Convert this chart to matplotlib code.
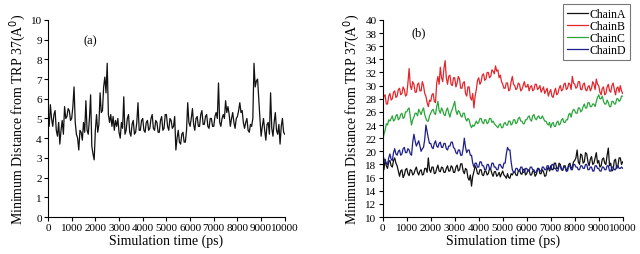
import numpy as np
import matplotlib.pyplot as plt

plt.rcParams["font.family"] = ["Liberation Serif", "DejaVu Serif"]

# time axis, ps (every 50 ps)
time_ps = np.arange(0, 10001, 50)

# panel (a): minimum distance, single trace
dist_a = [5.3, 4.6, 5.7, 5.0, 4.6, 5.2, 5.4, 4.4, 4.1, 4.8,
          3.7, 4.4, 4.9, 4.2, 5.6, 5.0, 5.1, 5.5, 5.4, 4.9,
          5.0, 5.6, 6.6, 4.8, 4.2, 4.0, 3.4, 4.4, 4.3, 3.9,
          4.8, 4.3, 5.9, 4.4, 4.2, 5.0, 6.2, 3.6, 3.2, 2.9,
          4.4, 5.2, 4.3, 4.7, 6.3, 5.3, 5.4, 6.6, 7.1, 6.3,
          7.8, 5.2, 4.8, 5.2, 4.6, 5.1, 4.4, 4.9, 4.6, 5.0,
          4.3, 4.0, 4.8, 4.5, 6.1, 4.2, 4.4, 5.0, 5.2, 4.3,
          4.1, 4.7, 4.9, 4.2, 4.3, 4.8, 5.8, 4.4, 4.4, 4.9,
          5.0, 4.4, 4.3, 4.8, 4.9, 4.4, 4.5, 5.0, 5.2, 4.5,
          4.4, 4.9, 4.8, 4.3, 4.3, 4.9, 5.1, 4.4, 4.5, 5.2,
          5.2, 4.6, 4.4, 5.0, 4.9, 4.5, 4.6, 5.1, 3.4, 4.0,
          4.4, 3.8, 3.7, 4.2, 4.3, 3.8, 3.8, 4.4, 5.8, 4.8,
          4.6, 5.0, 5.5, 4.7, 4.4, 5.0, 5.1, 4.6, 4.6, 5.2,
          5.4, 4.7, 4.7, 5.1, 5.2, 4.6, 4.5, 5.0, 5.0, 4.6,
          4.6, 5.1, 5.3, 5.0, 6.8, 4.8, 4.6, 5.0, 5.2, 5.0,
          5.9, 5.3, 5.6, 5.2, 4.6, 5.0, 5.3, 4.8, 4.5, 5.0,
          5.1, 5.4, 5.8, 5.3, 5.4, 4.8, 4.5, 4.8, 5.0, 4.4,
          4.3, 4.7, 4.6, 5.0, 7.8, 6.6, 6.9, 7.0, 6.0, 5.0,
          4.1, 4.6, 5.0, 4.4, 3.9, 4.7, 4.8, 4.2, 6.3, 4.5,
          4.1, 4.8, 5.3, 4.4, 4.2, 4.7, 3.7, 4.6, 5.0, 4.3,
          4.2]

# panel (b): four chains
chain_a = [18.0, 17.2, 18.8, 17.8, 17.4, 18.4, 18.6, 17.8, 17.6, 18.6,
           19.0, 18.2, 17.8, 17.0, 16.2, 17.0, 17.2, 16.0, 16.4, 17.2,
           17.4, 16.6, 16.3, 17.2, 17.1, 16.4, 16.6, 17.2, 17.6, 16.8,
           16.4, 17.0, 17.2, 16.4, 16.5, 17.4, 17.4, 16.8, 19.0, 17.2,
           16.8, 17.6, 17.6, 16.6, 16.7, 17.4, 17.9, 17.0, 16.9, 17.6,
           17.5, 16.8, 16.8, 17.4, 17.8, 17.0, 17.0, 17.8, 17.6, 16.8,
           16.8, 17.6, 17.9, 17.0, 17.2, 18.1, 18.1, 17.0, 16.6, 17.4,
           17.2, 16.0, 15.6, 16.4, 14.7, 16.2, 16.9, 17.8, 17.4, 16.6,
           16.5, 17.2, 17.2, 16.4, 16.3, 17.0, 17.0, 16.4, 16.6, 17.4,
           17.3, 16.6, 16.2, 16.9, 16.9, 16.2, 16.4, 16.8, 16.1, 16.6,
           17.0, 16.4, 16.2, 15.9, 16.6, 16.0, 15.9, 16.6, 16.4, 16.8,
           16.9, 16.4, 16.3, 17.0, 17.2, 16.6, 16.5, 17.2, 17.3, 16.4,
           16.6, 17.2, 17.1, 16.4, 16.4, 17.0, 17.0, 16.2, 16.5, 17.2,
           17.4, 16.6, 16.6, 17.2, 16.9, 16.2, 16.3, 17.2, 17.6, 17.0,
           17.8, 17.2, 17.2, 18.2, 18.2, 17.4, 17.4, 18.2, 18.0, 17.2,
           17.1, 17.8, 17.8, 17.0, 17.3, 18.0, 18.2, 17.4, 17.6, 18.4,
           18.6, 19.0, 20.2, 18.4, 18.0, 19.6, 19.4, 18.2, 18.4, 19.8,
           19.6, 18.4, 17.8, 18.8, 19.2, 18.0, 18.2, 19.0, 19.8, 18.2,
           18.6, 17.6, 17.8, 18.8, 19.0, 18.2, 18.0, 19.4, 20.5, 17.8,
           18.2, 17.0, 17.2, 18.6, 18.8, 17.4, 17.8, 19.0, 19.0, 18.0,
           18.4]
chain_b = [27.4, 28.4, 28.6, 27.2, 27.2, 28.4, 28.8, 27.8, 28.0, 29.0,
           29.2, 28.2, 28.4, 29.4, 29.6, 28.6, 28.8, 29.8, 29.4, 28.4,
           28.6, 30.4, 32.6, 30.0, 29.4, 30.6, 30.2, 29.0, 29.0, 30.2,
           30.4, 29.2, 29.2, 30.6, 30.0, 28.8, 28.4, 27.4, 26.8, 27.8,
           27.6, 28.6, 28.8, 27.6, 27.4, 30.4, 31.4, 30.2, 32.8, 31.2,
           30.6, 32.6, 33.8, 31.2, 30.2, 31.4, 31.6, 30.2, 30.0, 31.2,
           31.2, 29.8, 30.4, 31.4, 31.0, 29.6, 29.6, 30.4, 30.6, 28.8,
           28.4, 29.8, 29.8, 28.2, 27.8, 28.8, 26.6, 28.4, 29.4, 30.8,
           31.2, 30.2, 30.6, 31.6, 31.8, 30.8, 31.0, 32.0, 32.0, 31.2,
           31.4, 32.4, 32.2, 31.8, 33.0, 32.2, 32.4, 31.2, 31.6, 30.6,
           30.2, 29.6, 29.6, 30.4, 30.4, 29.2, 29.4, 30.6, 31.4, 30.2,
           30.0, 29.4, 29.6, 30.4, 30.2, 29.2, 29.4, 30.0, 30.6, 29.8,
           29.8, 30.2, 29.2, 29.8, 30.0, 29.2, 29.4, 30.2, 30.2, 29.4,
           29.6, 30.0, 29.0, 29.4, 29.8, 28.8, 29.2, 29.6, 28.4, 29.0,
           29.4, 28.4, 28.2, 29.0, 29.6, 28.6, 28.8, 29.6, 30.0, 29.2,
           29.4, 30.2, 30.4, 29.4, 29.6, 30.4, 30.2, 29.4, 31.4, 30.4,
           30.2, 29.6, 29.8, 30.6, 30.6, 29.4, 29.4, 30.2, 30.4, 29.4,
           29.2, 29.8, 30.0, 29.2, 29.6, 30.6, 30.2, 29.4, 31.0, 30.2,
           30.0, 29.0, 28.6, 29.6, 29.8, 28.6, 28.8, 29.8, 30.2, 29.2,
           29.0, 30.0, 30.4, 29.4, 28.6, 29.6, 29.8, 29.0, 30.0, 29.2,
           28.8]
chain_c = [21.6, 22.6, 23.2, 24.2, 24.0, 24.8, 24.6, 25.0, 25.4, 24.6,
           24.8, 25.4, 25.6, 24.8, 25.0, 25.6, 25.8, 25.0, 25.2, 26.0,
           26.0, 26.4, 26.6, 25.2, 24.0, 24.8, 25.2, 25.8, 25.8, 25.4,
           26.4, 26.0, 25.6, 26.2, 26.6, 25.6, 25.0, 24.6, 24.6, 25.4,
           25.8, 26.2, 26.4, 25.8, 25.6, 26.8, 27.6, 26.2, 25.8, 26.6,
           26.2, 25.6, 25.4, 26.2, 26.6, 25.8, 25.2, 26.0, 26.4, 27.0,
           27.6, 26.2, 25.6, 26.2, 26.0, 25.4, 25.2, 25.8, 25.8, 25.0,
           24.6, 25.0, 24.8, 24.0, 23.6, 24.0, 23.8, 24.2, 24.6, 24.2,
           24.4, 25.0, 25.0, 24.4, 24.2, 24.8, 24.8, 24.2, 24.4, 25.0,
           25.0, 24.4, 24.6, 24.2, 24.0, 23.8, 23.6, 24.0, 24.2, 23.6,
           23.6, 24.2, 24.4, 24.0, 24.0, 24.6, 24.6, 24.0, 24.2, 24.8,
           24.8, 24.2, 24.4, 25.0, 25.2, 24.6, 24.6, 24.2, 24.2, 24.8,
           24.8, 25.2, 25.4, 24.8, 24.6, 25.4, 25.6, 25.0, 24.8, 25.2,
           25.4, 25.0, 25.0, 25.4, 25.0, 24.6, 24.6, 24.2, 24.0, 24.4,
           23.6, 24.2, 24.4, 23.8, 23.8, 24.4, 24.6, 24.0, 24.2, 24.8,
           25.0, 24.4, 24.4, 24.8, 24.8, 25.6, 25.8, 25.2, 26.0, 26.4,
           26.2, 25.8, 25.8, 26.6, 26.6, 26.0, 26.2, 26.8, 27.2, 26.6,
           26.6, 27.4, 27.4, 26.8, 26.8, 27.2, 27.2, 26.8, 27.6, 28.2,
           28.6, 28.0, 28.0, 28.4, 27.6, 27.2, 27.2, 27.8, 27.4, 26.8,
           26.8, 27.6, 27.6, 27.2, 27.2, 28.0, 28.0, 27.6, 27.8, 28.4,
           28.4]
chain_d = [19.6, 18.8, 18.6, 18.2, 18.0, 19.0, 19.6, 18.8, 18.6, 19.8,
           20.4, 19.6, 19.4, 20.0, 20.2, 19.4, 19.6, 20.4, 20.6, 19.8,
           19.8, 20.4, 20.2, 19.6, 19.4, 21.4, 22.6, 21.6, 20.8, 21.2,
           21.6, 20.8, 20.0, 20.4, 20.6, 21.8, 24.0, 23.0, 22.0, 21.2,
           21.2, 20.6, 20.4, 21.2, 21.6, 20.8, 20.6, 21.2, 21.4, 20.6,
           20.6, 21.2, 21.2, 20.4, 20.2, 20.8, 20.8, 21.4, 21.4, 20.6,
           20.4, 19.8, 19.6, 20.2, 20.2, 19.4, 19.4, 20.4, 22.0, 20.6,
           19.8, 20.2, 20.2, 19.4, 19.4, 18.2, 17.6, 18.2, 18.2, 17.6,
           17.6, 18.4, 18.4, 17.8, 17.8, 17.2, 17.2, 18.0, 18.0, 17.4,
           17.4, 18.2, 18.2, 17.6, 17.6, 17.2, 17.2, 18.0, 18.0, 17.6,
           17.4, 18.2, 18.2, 19.6, 20.6, 20.2, 20.2, 18.4, 17.2, 16.8,
           16.8, 17.4, 17.4, 17.0, 17.0, 17.6, 17.6, 16.8, 16.8, 17.4,
           17.4, 17.0, 17.0, 17.6, 17.6, 17.2, 17.2, 16.8, 16.8, 17.4,
           17.4, 17.0, 17.0, 17.6, 17.6, 17.2, 17.2, 17.8, 17.8, 17.2,
           17.2, 18.0, 18.0, 17.4, 17.4, 17.0, 17.0, 17.8, 17.8, 17.2,
           17.2, 17.6, 17.6, 17.0, 17.0, 17.8, 17.8, 17.2, 17.2, 18.0,
           18.0, 17.6, 17.6, 17.2, 17.2, 17.8, 17.8, 17.4, 17.4, 18.0,
           18.0, 17.2, 17.2, 17.6, 17.6, 17.0, 17.0, 17.8, 17.8, 17.4,
           17.4, 17.0, 17.0, 17.6, 17.6, 17.2, 17.2, 17.8, 17.8, 17.0,
           17.0, 17.6, 17.6, 17.2, 17.2, 17.8, 17.8, 17.4, 17.4, 17.6,
           17.4]

chain_names = ["ChainA", "ChainB", "ChainC", "ChainD"]
chain_colors = ["#111111", "#e3262b", "#2aa63b", "#1d1f8a"]

ylabel = "Minimum Distance from TRP 37(A$^{\\mathrm{0}}$)"

fig = plt.figure(figsize=(6.4, 2.55), dpi=100)
ax1 = fig.add_axes([0.075, 0.145, 0.370, 0.773])
ax2 = fig.add_axes([0.598, 0.145, 0.375, 0.773])

ax1.plot(time_ps, dist_a, color="#111111", lw=0.9)
ax1.set_ylim(0, 10)
ax1.set_yticks(range(0, 11))
ax1.text(0.15, 0.88, "(a)", transform=ax1.transAxes, fontsize=9)

for vals, name, col in zip([chain_a, chain_b, chain_c, chain_d], chain_names, chain_colors):
    ax2.plot(time_ps, vals, color=col, lw=0.9, label=name)
ax2.set_ylim(10, 40)
ax2.set_yticks(range(10, 41, 2))
ax2.text(0.12, 0.92, "(b)", transform=ax2.transAxes, fontsize=9)

leg = fig.legend(loc="upper right", bbox_to_anchor=(0.985, 0.98), fontsize=8.5,
                 frameon=True, fancybox=False, handlelength=1.8,
                 handletextpad=0.1, labelspacing=0.0, borderpad=0.35,
                 borderaxespad=0.0)
leg.get_frame().set_edgecolor("#555555")
leg.get_frame().set_linewidth(0.8)

for ax in (ax1, ax2):
    ax.set_xlim(0, 10000)
    ax.set_xticks(range(0, 10001, 1000))
    ax.spines["top"].set_visible(False)
    ax.spines["right"].set_visible(False)
    ax.tick_params(labelsize=8, length=3, width=0.8, pad=1.5)
    ax.set_xlabel("Simulation time (ps)", fontsize=10, labelpad=1)
    ax.set_ylabel(ylabel, fontsize=10, labelpad=2)

fig.savefig("out.png", dpi=100)
